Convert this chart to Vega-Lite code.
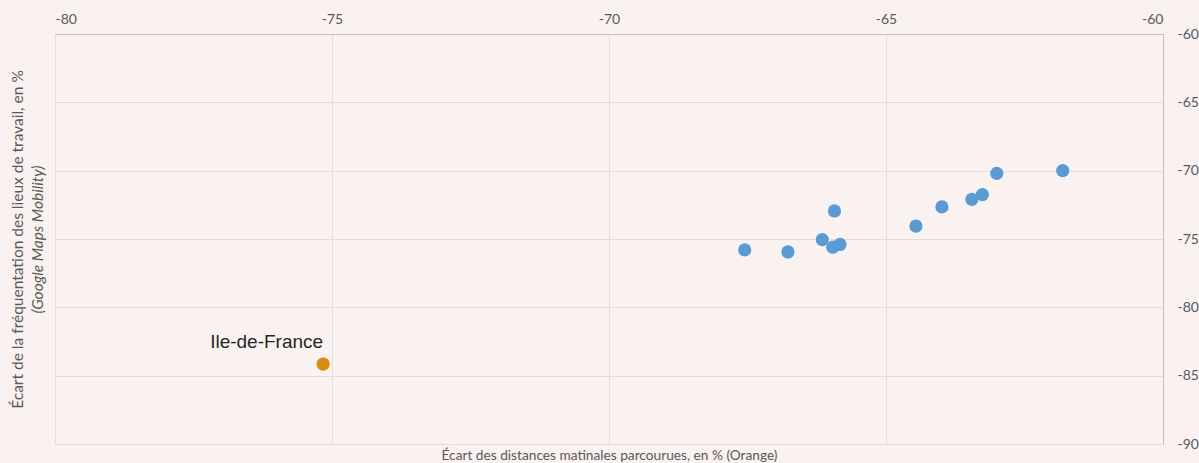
{
  "$schema": "https://vega.github.io/schema/vega-lite/v6.json",
  "autosize": {"type": "none"},
  "width": 1108,
  "height": 410,
  "padding": {"left": 55, "top": 34, "right": 36, "bottom": 19},
  "background": "#f9f2f0",
  "config": {
    "view": {"stroke": "#d4d0cf", "strokeWidth": 1},
    "font": "Lato",
    "axis": {
      "labelFont": "Lato",
      "titleFont": "Lato",
      "labelColor": "#595959",
      "titleColor": "#595959",
      "labelFontSize": 14,
      "titleFontSize": 14,
      "titleFontWeight": "normal",
      "gridColor": "#e2dddc",
      "gridWidth": 1,
      "domainColor": "#c4c0bf",
      "ticks": false
    }
  },
  "data": {
    "values": [
      {"x": -67.55, "y": -75.8, "groupe": "Autres", "label": ""},
      {"x": -66.77, "y": -75.95, "groupe": "Autres", "label": ""},
      {"x": -66.15, "y": -75.05, "groupe": "Autres", "label": ""},
      {"x": -65.93, "y": -72.95, "groupe": "Autres", "label": ""},
      {"x": -65.96, "y": -75.6, "groupe": "Autres", "label": ""},
      {"x": -65.83, "y": -75.4, "groupe": "Autres", "label": ""},
      {"x": -64.46, "y": -74.05, "groupe": "Autres", "label": ""},
      {"x": -63.99, "y": -72.65, "groupe": "Autres", "label": ""},
      {"x": -63.45, "y": -72.1, "groupe": "Autres", "label": ""},
      {"x": -63.26, "y": -71.75, "groupe": "Autres", "label": ""},
      {"x": -63.0, "y": -70.2, "groupe": "Autres", "label": ""},
      {"x": -61.81, "y": -70.0, "groupe": "Autres", "label": ""},
      {"x": -75.16, "y": -84.15, "groupe": "Île-de-France", "label": "Ile-de-France"}
    ]
  },
  "resolve": {"axis": {"x": "independent", "y": "independent"}},
  "layer": [
    {
      "mark": {"type": "point", "filled": true, "size": 175, "opacity": 1},
      "encoding": {
        "x": {
          "field": "x", "type": "quantitative",
          "scale": {"domain": [-80, -60], "nice": false, "zero": false},
          "axis": {"orient": "top", "values": [-80, -75, -70, -65, -60], "labelExpr": "toString(datum.value)", "title": null, "grid": true, "labelPadding": 8, "domain": true}
        },
        "y": {
          "field": "y", "type": "quantitative",
          "scale": {"domain": [-90, -60], "nice": false, "zero": false},
          "axis": {"orient": "right", "values": [-90, -85, -80, -75, -70, -65, -60], "labelExpr": "toString(datum.value)", "title": null, "grid": true, "labelPadding": 14, "domain": true}
        },
        "color": {
          "field": "groupe", "type": "nominal",
          "scale": {"domain": ["Autres", "Île-de-France"], "range": ["#5b9bd5", "#d98c14"]},
          "legend": null
        }
      }
    },
    {
      "mark": {"type": "text", "align": "right", "baseline": "alphabetic", "dx": 0, "dy": -16, "font": "Liberation Sans", "fontSize": 19, "color": "#262626"},
      "encoding": {
        "x": {"field": "x", "type": "quantitative", "axis": null},
        "y": {"field": "y", "type": "quantitative", "axis": null},
        "text": {"field": "label"}
      }
    },
    {
      "mark": {"type": "point", "opacity": 0},
      "encoding": {
        "x": {
          "field": "x", "type": "quantitative",
          "axis": {"orient": "bottom", "title": "Écart des distances matinales parcourues, en % (Orange)", "titleFontSize": 13.7, "labels": false, "domain": false, "grid": false, "titlePadding": 4}
        },
        "y": {
          "field": "y", "type": "quantitative",
          "axis": {"orient": "left", "title": "Écart de la fréquentation des lieux de travail, en %", "titleFontSize": 15.5, "labels": false, "domain": false, "grid": false, "titlePadding": 30}
        }
      }
    },
    {
      "mark": {"type": "point", "opacity": 0},
      "encoding": {
        "x": {"field": "x", "type": "quantitative", "axis": null},
        "y": {
          "field": "y", "type": "quantitative",
          "axis": {"orient": "left", "title": "(Google Maps Mobility)", "titleFontStyle": "italic", "titleFontSize": 15.5, "labels": false, "domain": false, "grid": false, "titlePadding": 10}
        }
      }
    }
  ]
}
